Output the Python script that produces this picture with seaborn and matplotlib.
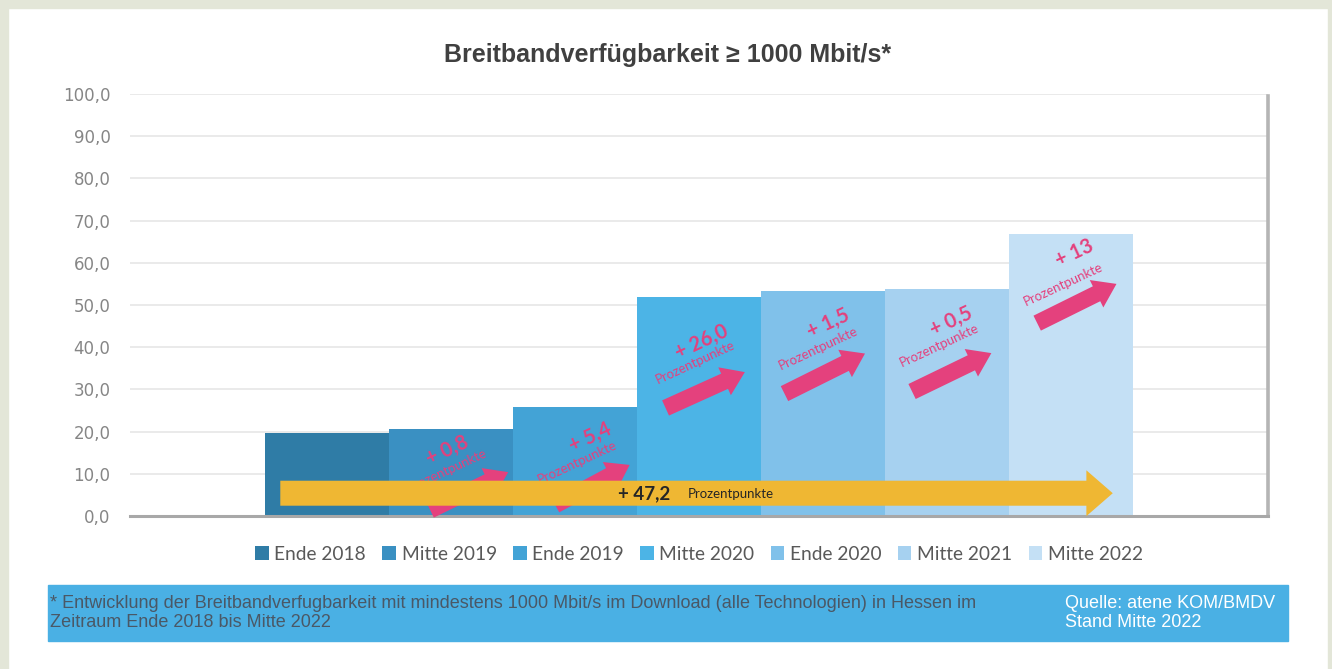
import matplotlib
matplotlib.use("Agg")
import matplotlib.pyplot as plt
import seaborn as sns
import pandas as pd
from matplotlib.patches import Rectangle

# ---------------- data ----------------
periods = ["Ende 2018", "Mitte 2019", "Ende 2019", "Mitte 2020",
           "Ende 2020", "Mitte 2021", "Mitte 2022"]
values = [19.7, 20.5, 25.9, 51.9, 53.4, 53.9, 66.9]
colors = ["#2f7ca6", "#3a90c2", "#43a3d6", "#4cb4e6",
          "#80c1ea", "#a6d1f0", "#c4e0f5"]
deltas = ["+ 0,8", "+ 5,4", "+ 26,0", "+ 1,5", "+ 0,5", "+ 13"]
total_label = "+ 47,2"
unit_label = "Prozentpunkte"
y_ticks = [0, 10, 20, 30, 40, 50, 60, 70, 80, 90, 100]
y_tick_labels = ["0,0", "10,0", "20,0", "30,0", "40,0", "50,0",
                 "60,0", "70,0", "80,0", "90,0", "100,0"]
title = "Breitbandverfügbarkeit ≥ 1000 Mbit/s*"
footnote = ("* Entwicklung der Breitbandverfugbarkeit mit mindestens 1000 Mbit/s im Download "
            "(alle Technologien) in Hessen im\nZeitraum Ende 2018 bis Mitte 2022")
source = "Quelle: atene KOM/BMDV\nStand Mitte 2022"

# annotation placement inside bars 1..6: (fraction of bar width, y value)
arrow_tail = [(0.33, 1.4), (0.34, 2.6), (0.23, 25.6), (0.19, 29.0), (0.22, 29.5), (0.23, 45.7)]
arrow_head = [(0.96, 10.4), (0.94, 12.1), (0.87, 34.1), (0.84, 38.5), (0.86, 38.6), (0.87, 55.0)]
delta_pos = [(0.47, 15.6), (0.62, 18.5), (0.52, 41.2), (0.54, 45.7), (0.54, 46.0), (0.53, 62.3)]
unit_pos = [(0.47, 10.9), (0.52, 12.6), (0.47, 36.3), (0.46, 39.8), (0.44, 40.5), (0.44, 54.8)]

PINK = "#e4417d"
YELLOW = "#efb733"

# ---------------- figure ----------------
sns.set_theme(style="white")
plt.rcParams["font.family"] = ["Lato", "DejaVu Sans"]

W, H = 1332, 669
fig = plt.figure(figsize=(W / 100, H / 100), dpi=100)
fig.patch.set_facecolor("white")

# outer greyish frame
frame = "#e3e6d8"
fig.patches.append(Rectangle((0, 0), 8 / W, 1, transform=fig.transFigure, color=frame, zorder=0))
fig.patches.append(Rectangle((0, 1 - 8 / H), 1, 8 / H, transform=fig.transFigure, color=frame, zorder=0))
fig.patches.append(Rectangle((1 - 4 / W, 0), 4 / W, 1, transform=fig.transFigure, color=frame, zorder=0))

ax = fig.add_axes([130 / W, 1 - 516 / H, (1268 - 130) / W, (516 - 94) / H])

df = pd.DataFrame({"grp": [""] * len(periods), "period": periods, "value": values})
sns.barplot(data=df, x="grp", y="value", hue="period", hue_order=periods,
            palette=colors, width=0.762, gap=0, saturation=1, ax=ax,
            linewidth=0, zorder=2)

ax.set_xlim(-0.5, 0.5)
ax.set_ylim(0, 100)
ax.set_yticks(y_ticks)
ax.set_yticklabels(y_tick_labels)
ax.tick_params(axis="y", length=0, pad=14, labelsize=12, labelcolor="#868686")
for lab in ax.get_yticklabels():
    lab.set_family("DejaVu Sans")
ax.set_xticks([])
ax.set_xlabel("")
ax.set_ylabel("")
ax.grid(axis="y", color="#e6e6e6", linewidth=1.2, zorder=0)
ax.set_axisbelow(True)
for s in ["top", "left"]:
    ax.spines[s].set_visible(False)
ax.spines["bottom"].set_color("#a8a8a8")
ax.spines["bottom"].set_linewidth(2.2)
ax.spines["right"].set_color("#b5b5b5")
ax.spines["right"].set_linewidth(2.6)
ax.spines["right"].set_bounds(0, 99.5)

# legend
handles, labels = ax.get_legend_handles_labels()
ax.get_legend().remove()
fig.legend(handles, labels, loc="center", bbox_to_anchor=(699 / W, 1 - 554 / H),
           ncol=7, frameon=False, handlelength=0.7, handleheight=0.7,
           handletextpad=0.3, columnspacing=0.85,
           prop={"family": "Lato", "size": 13.8}, labelcolor="#595959")

# bars geometry from the library
bars = [p for p in ax.patches if p.get_width() > 0][:len(values)]
bars.sort(key=lambda p: p.get_x())

def bx(i, frac):
    b = bars[i]
    return b.get_x() + frac * b.get_width()

# pink arrows & labels
for k in range(len(deltas)):
    i = k + 1
    (tf, ty), (hf, hy) = arrow_tail[k], arrow_head[k]
    ax.annotate("", xy=(bx(i, hf), hy), xytext=(bx(i, tf), ty),
                arrowprops=dict(arrowstyle="simple,head_length=16,head_width=22,tail_width=12",
                                mutation_scale=1, color=PINK, shrinkA=0, shrinkB=0, lw=0),
                zorder=3)
    dfx, dfy = delta_pos[k]
    ax.text(bx(i, dfx), dfy, deltas[k], color=PINK, fontsize=14.5, fontweight="bold",
            rotation=25, ha="center", va="center", rotation_mode="anchor", zorder=3)
    ufx, ufy = unit_pos[k]
    ax.text(bx(i, ufx), ufy, unit_label, color=PINK, fontsize=9.5,
            rotation=25, ha="center", va="center", rotation_mode="anchor", zorder=3)

# yellow total arrow
ax.annotate("", xy=(bx(len(values) - 1, 0.84), 5.4), xytext=(bx(0, 0.12), 5.4),
            arrowprops=dict(arrowstyle="simple,head_length=19,head_width=33,tail_width=18",
                            mutation_scale=1, color=YELLOW, shrinkA=0, shrinkB=0, lw=0),
            zorder=4)
ax.text(bx(3, 0.06), 5.3, total_label, color="#262626", fontsize=13.5, fontweight="bold",
        ha="center", va="center", zorder=5)
ax.text(bx(3, 0.76), 5.3, unit_label, color="#262626", fontsize=9.5,
        ha="center", va="center", zorder=5)

# title
fig.text(668 / W, 1 - 55 / H, title, ha="center", va="center", fontsize=18,
         fontweight="bold", color="#404040", family="Liberation Sans")

# footer band
fig.patches.append(Rectangle((48 / W, 1 - 641 / H), (1288 - 48) / W, (641 - 585) / H,
                             transform=fig.transFigure, color="#4ab0e4", zorder=1))
fig.text(50 / W, 1 - 613 / H, footnote, ha="left", va="center", fontsize=13,
         color="#4a5866", family="Liberation Sans", linespacing=1.1, zorder=2)
fig.text(1065 / W, 1 - 613 / H, source, ha="left", va="center", fontsize=13,
         color="white", family="Liberation Sans", linespacing=1.1, zorder=2)

fig.savefig("out.png", dpi=100)
